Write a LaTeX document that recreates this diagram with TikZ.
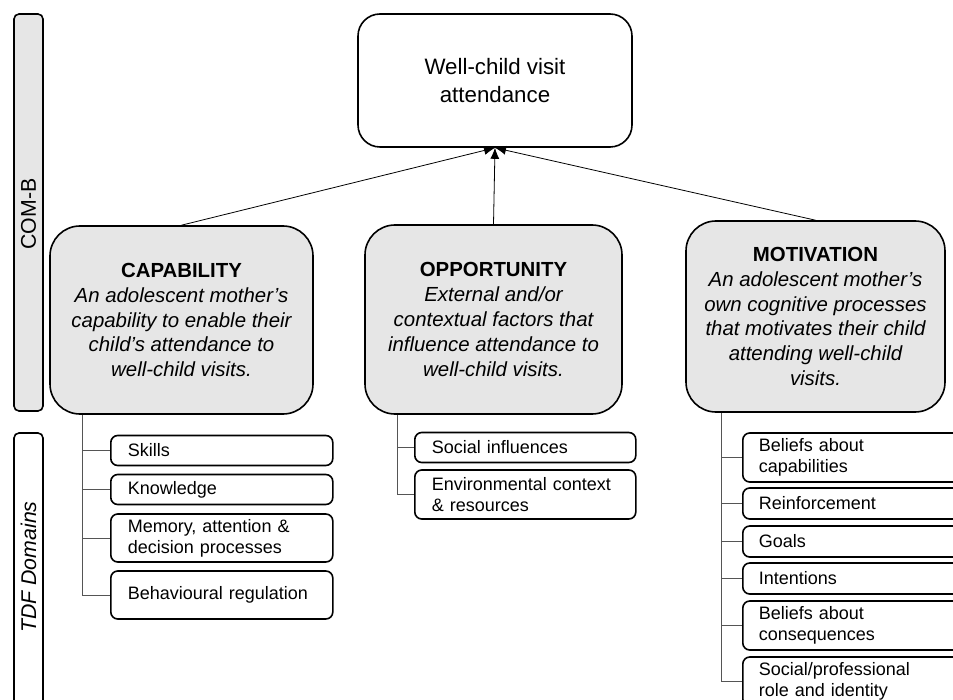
\documentclass[tikz,border=0pt]{standalone}
\usepackage{fontspec}
\setmainfont{Liberation Sans}
\usetikzlibrary{arrows.meta}
\definecolor{boxgray}{HTML}{E6E6E6}
\definecolor{treegray}{HTML}{555555}
\tikzset{
  sidebar/.style={draw=black,line width=1.6pt,rounded corners=5pt},
  mainbox/.style={draw=black,line width=1.6pt,fill=boxgray,rounded corners=30pt,
    inner sep=0pt,align=center,font=\fontsize{20.4}{24.8}\selectfont},
  topbox/.style={draw=black,line width=1.6pt,fill=white,rounded corners=22pt,
    minimum width=274pt,minimum height=133pt,inner sep=0pt,align=center,
    font=\fontsize{22.3}{28}\selectfont},
  subbox/.style={draw=black,line width=1.6pt,fill=white,rounded corners=7pt,
    anchor=west,inner xsep=17pt,inner ysep=0pt,align=left,
    font=\fontsize{18}{21}\selectfont},
  tree/.style={draw=treegray,line width=0.9pt},
  arr/.style={draw=black,line width=0.8pt,-{Latex[length=11pt,width=9pt]}},
}
\begin{document}
\begin{tikzpicture}[x=1pt,y=-1pt]
\useasboundingbox (0,0) rectangle (953,700);

% side bars
\draw[sidebar,fill=boxgray] (14,14) rectangle (43,411);
\node[rotate=90,font=\fontsize{21.3}{24}\selectfont] (comb) at (28.5,214) {COM-B};
\draw[sidebar,fill=white] (14,433) rectangle (43,730);
\node[rotate=90,font=\fontsize{21.3}{24}\itshape] (tdf) at (28.5,567) {TDF Domains};

% top box
\node[topbox] (top) at (495,80.5) {Well-child visit\\attendance};

% main boxes
\node[mainbox,minimum width=263pt,minimum height=188pt] (cap) at (181.5,320)
  {\textbf{CAPABILITY}\\\itshape An adolescent mother's\\\itshape capability to enable their\\\itshape child's attendance to\\\itshape well-child visits.};
\node[mainbox,minimum width=257pt,minimum height=189pt] (opp) at (493.5,319.5)
  {\textbf{OPPORTUNITY}\\\itshape External and/or\\\itshape contextual factors that\\\itshape influence attendance to\\\itshape well-child visits.};
\node[mainbox,minimum width=259pt,minimum height=191pt] (mot) at (815.5,316.5)
  {\textbf{MOTIVATION}\\\itshape An adolescent mother's\\\itshape own cognitive processes\\\itshape that motivates their child\\\itshape attending well-child\\\itshape visits.};

% arrows
\draw[arr] (cap.north) -- (top.south);
\draw[arr] (opp.north) -- (top.south);
\draw[arr] (mot.north) -- (top.south);

% capability domains
\node[subbox,text width=188pt,minimum height=30pt] (skills) at (110,450.5) {Skills};
\node[subbox,text width=188pt,minimum height=30pt] (know) at (110,489.5) {Knowledge};
\node[subbox,text width=188pt,minimum height=48pt] (mem) at (110,538) {Memory, attention \&\\decision processes};
\node[subbox,text width=188pt,minimum height=48pt] (beh) at (110,595) {Behavioural regulation};
\coordinate (ct) at (82,0);
\draw[tree] (cap.south -| ct) -- (ct |- beh.west) -- (beh.west);
\draw[tree] (ct |- skills.west) -- (skills.west);
\draw[tree] (ct |- know.west) -- (know.west);
\draw[tree] (ct |- mem.west) -- (mem.west);

% opportunity domains
\node[subbox,text width=187pt,minimum height=30pt] (soc) at (414,447.5) {Social influences};
\node[subbox,text width=187pt,minimum height=49pt] (env) at (414,494.5) {Environmental context\\\& resources};
\coordinate (ot) at (397,0);
\draw[tree] (opp.south -| ot) -- (ot |- env.west) -- (env.west);
\draw[tree] (ot |- soc.west) -- (soc.west);

% motivation domains
\node[subbox,inner xsep=16pt,text width=210pt,minimum height=49pt] (bcap) at (742,457.5) {Beliefs about\\capabilities};
\node[subbox,inner xsep=16pt,text width=210pt,minimum height=31pt] (rein) at (742,503.5) {Reinforcement};
\node[subbox,inner xsep=16pt,text width=210pt,minimum height=31pt] (goals) at (742,541.5) {Goals};
\node[subbox,inner xsep=16pt,text width=210pt,minimum height=31pt] (intent) at (742,578.5) {Intentions};
\node[subbox,inner xsep=16pt,text width=210pt,minimum height=49pt] (bcon) at (742,625.5) {Beliefs about\\consequences};
\node[subbox,inner xsep=16pt,text width=210pt,minimum height=49pt] (srole) at (742,681.5) {Social/professional\\role and identity};
\coordinate (mt) at (721,0);
\draw[tree] (mot.south -| mt) -- (mt |- srole.west) -- (srole.west);
\draw[tree] (mt |- bcap.west) -- (bcap.west);
\draw[tree] (mt |- rein.west) -- (rein.west);
\draw[tree] (mt |- goals.west) -- (goals.west);
\draw[tree] (mt |- intent.west) -- (intent.west);
\draw[tree] (mt |- bcon.west) -- (bcon.west);
\end{tikzpicture}
\end{document}
